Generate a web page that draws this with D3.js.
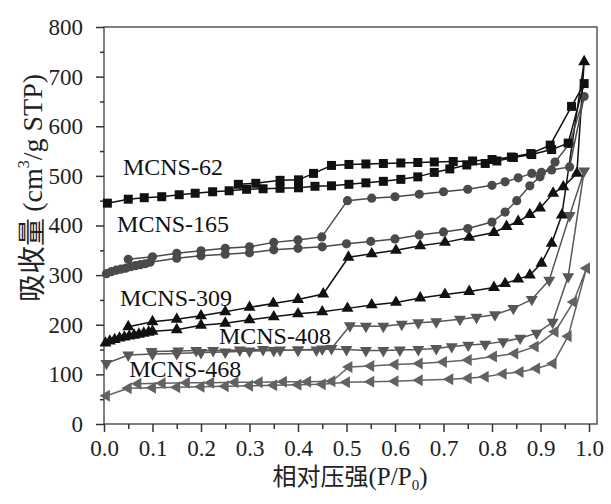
<!DOCTYPE html>
<html>
<head>
<meta charset="utf-8">
<title>MCNS isotherms</title>
<script src="https://cdn.jsdelivr.net/npm/d3@7"></script>
<style>
body { margin: 0; background: #fff; }
.axis path, .axis line { stroke: #333; stroke-width: 1.5; fill: none; }
.axis text { font: 23px "Liberation Serif", "Times New Roman", serif; fill: #222; }
.lbl { font: 24px "Liberation Serif", "Times New Roman", serif; fill: #111; }
.title { fill: #222; }
</style>
</head>
<body>
<script>
// N2 isotherms, adsorption branch then desorption branch
var p62 = [0.007,0.05,0.083,0.119,0.155,0.188,0.224,0.258,0.294,0.328,0.363,0.401,0.435,0.469,0.505,0.54,0.576,0.612,0.647,0.681,0.713,0.748,0.786,0.81,0.844,0.882,0.923,0.957,0.99,
           0.964,0.92,0.88,0.84,0.80,0.76,0.72,0.681,0.647,0.612,0.576,0.54,0.505,0.469,0.432,0.401,0.363,0.313,0.277];
var v62 = [445,453,456,458,462,465,468,470,473,474,475,476,479,480,483,486,489,493,498,507,514,522,525,530,537,543,553,566,686,
           640,562,545,538,533,530,529,528,527,526,525,524,523,521,505,492,491,485,483];

var p165 = [0.005,0.015,0.025,0.035,0.045,0.055,0.065,0.075,0.085,0.095,0.15,0.2,0.25,0.3,0.35,0.4,0.45,0.5,0.55,0.6,0.65,0.7,0.75,0.8,0.827,0.851,0.878,0.899,0.93,0.96,0.99,
            0.96,0.923,0.902,0.882,0.854,0.827,0.8,0.75,0.7,0.65,0.6,0.552,0.502,0.449,0.4,0.35,0.3,0.25,0.2,0.15,0.1,0.05];
var v165 = [303,307,310,312,314,317,319,321,323,326,334,339,342,345,351,354,357,363,368,373,381,387,394,407,427,450,480,498,528,565,660,
            518,512,507,505,496,488,481,473,468,463,458,455,450,377,371,366,357,354,349,344,337,332];

var p309 = [0.003,0.012,0.022,0.032,0.042,0.052,0.062,0.072,0.082,0.092,0.1,0.15,0.2,0.25,0.3,0.35,0.4,0.45,0.502,0.552,0.602,0.652,0.703,0.753,0.804,0.827,0.854,0.878,0.902,0.923,0.944,0.99,
            0.975,0.947,0.926,0.899,0.878,0.854,0.83,0.804,0.753,0.703,0.652,0.602,0.552,0.504,0.452,0.4,0.349,0.3,0.25,0.2,0.15,0.1,0.05];
var v309 = [163,167,170,173,175,177,179,181,183,185,187,190,199,203,210,216,222,226,233,240,245,254,261,267,275,283,292,300,324,364,421,730,
            505,478,465,435,422,408,398,386,376,366,359,350,343,336,262,251,243,235,226,218,211,206,196];

var p408 = [0.005,0.05,0.1,0.15,0.2,0.25,0.3,0.35,0.4,0.45,0.5,0.54,0.576,0.61,0.648,0.685,0.717,0.751,0.786,0.823,0.858,0.892,0.925,0.957,0.99,
            0.96,0.918,0.882,0.844,0.806,0.768,0.734,0.685,0.648,0.614,0.576,0.54,0.507,0.469,0.438,0.4,0.363,0.328,0.28,0.225,0.19,0.153,0.098];
var v408 = [122,139,141,142,144,145,147,148,149,151,150,148,148,149,150,152,156,159,161,166,173,183,205,297,510,
            420,290,251,233,220,215,211,206,204,201,197,197,198,152,149,149,149,150,149,148,148,147,146];

var p468 = [0.005,0.05,0.1,0.15,0.2,0.25,0.3,0.35,0.4,0.45,0.5,0.55,0.6,0.65,0.713,0.751,0.786,0.823,0.858,0.892,0.926,0.957,0.995,
            0.968,0.93,0.889,0.847,0.803,0.751,0.7,0.65,0.6,0.55,0.505,0.47,0.42,0.37,0.32,0.27,0.22,0.17,0.12,0.07];
var v468 = [57,72,73,74,75,76,77,78,79,80,84,85,86,88,90,92,95,101,105,112,122,177,314,
            246,186,156,142,136,129,125,122,120,117,115,86,85,85,84,84,83,83,82,81];

var names = ["MCNS-62","MCNS-165","MCNS-309","MCNS-408","MCNS-468"];
var xTicks = [0,0.1,0.2,0.3,0.4,0.5,0.6,0.7,0.8,0.9,1.0];
var yTicks = [0,100,200,300,400,500,600,700,800];

var W = 611, H = 504;
var mL = 104, mR = 597, mT = 27, mB = 424;

var x = d3.scaleLinear().domain([0, (mR - mL) / 485]).range([mL, mR]);
var y = d3.scaleLinear().domain([0, 800]).range([mB, mT]);

var svg = d3.select("body").append("svg").attr("width", W).attr("height", H);

// frame
svg.append("rect").attr("x", mL).attr("y", mT)
    .attr("width", mR - mL).attr("height", mB - mT)
    .attr("fill", "none").attr("stroke", "#555").attr("stroke-width", 1.5);

// minor ticks
svg.append("g").attr("class", "axis")
    .attr("transform", "translate(0," + mB + ")")
    .call(d3.axisBottom(x).tickValues(d3.range(0.05, 1.0, 0.1)).tickSize(5).tickFormat(""))
    .select(".domain").remove();
svg.append("g").attr("class", "axis")
    .attr("transform", "translate(" + mL + ",0)")
    .call(d3.axisLeft(y).tickValues(d3.range(50, 800, 100)).tickSize(4).tickFormat(""))
    .select(".domain").remove();

var xa = svg.append("g").attr("class", "axis")
    .attr("transform", "translate(0," + mB + ")")
    .call(d3.axisBottom(x).tickValues(xTicks).tickSize(8).tickPadding(8).tickSizeOuter(0).tickFormat(d3.format(".1f")));
xa.select(".domain").remove();

var ya = svg.append("g").attr("class", "axis")
    .attr("transform", "translate(" + mL + ",0)")
    .call(d3.axisLeft(y).tickValues(yTicks).tickSize(8).tickPadding(13).tickSizeOuter(0));
ya.select(".domain").remove();

var series = [
  {p: p62,  v: v62,  sym: d3.symbolSquare,   rot: 0,   size: 81, col: "#111"},
  {p: p165, v: v165, sym: d3.symbolCircle,   rot: 0,   size: 66, col: "#4a4a4a"},
  {p: p309, v: v309, sym: d3.symbolTriangle, rot: 0,   size: 62, col: "#111"},
  {p: p408, v: v408, sym: d3.symbolTriangle, rot: 180, size: 62, col: "#575757"},
  {p: p468, v: v468, sym: d3.symbolTriangle, rot: -90, size: 62, col: "#626262"}
];

var line = d3.line().x(function(d) { return x(d[0]); }).y(function(d) { return y(d[1]); });

series.slice().reverse().forEach(function(s) {
  var pts = s.p.map(function(d, i) { return [d, s.v[i]]; });
  svg.append("path").datum(pts)
      .attr("d", line)
      .attr("fill", "none")
      .attr("stroke", s.col)
      .attr("stroke-width", 1.5);
  svg.append("g").selectAll("path")
      .data(pts)
    .enter().append("path")
      .attr("d", d3.symbol().type(s.sym).size(s.size))
      .attr("transform", function(d) { return "translate(" + x(d[0]) + "," + y(d[1]) + ") rotate(" + s.rot + ")"; })
      .attr("fill", s.col);
});

// series labels
var lblPos = [[0.039, 502], [0.027, 387], [0.033, 238], [0.237, 161], [0.052, 95]];
svg.selectAll(".lbl")
    .data(names)
  .enter().append("text")
    .attr("class", "lbl")
    .attr("x", function(d, i) { return x(lblPos[i][0]); })
    .attr("y", function(d, i) { return y(lblPos[i][1]); })
    .text(function(d) { return d; });

// axis titles
var xt = svg.append("text").attr("class", "title")
    .attr("x", 350).attr("y", 485)
    .attr("text-anchor", "middle");
xt.append("tspan").style("font", "24px 'Noto Sans CJK SC', sans-serif").text("相对压强");
xt.append("tspan").style("font", "25px 'Liberation Serif', serif").text("(P/P");
xt.append("tspan").style("font", "15px 'Liberation Serif', serif").attr("dy", 5).text("0");
xt.append("tspan").style("font", "25px 'Liberation Serif', serif").attr("dy", -5).text(")");

var yt = svg.append("text").attr("class", "title")
    .attr("transform", "translate(42,188) rotate(-90)")
    .attr("text-anchor", "middle");
yt.append("tspan").style("font", "28px 'Noto Sans CJK SC', sans-serif").text("吸收量 ");
yt.append("tspan").style("font", "28px 'Liberation Serif', serif").text("(cm");
yt.append("tspan").style("font", "16px 'Liberation Serif', serif").attr("dy", -13).text("3");
yt.append("tspan").style("font", "28px 'Liberation Serif', serif").attr("dy", 13).text("/g STP)");
</script>
</body>
</html>
